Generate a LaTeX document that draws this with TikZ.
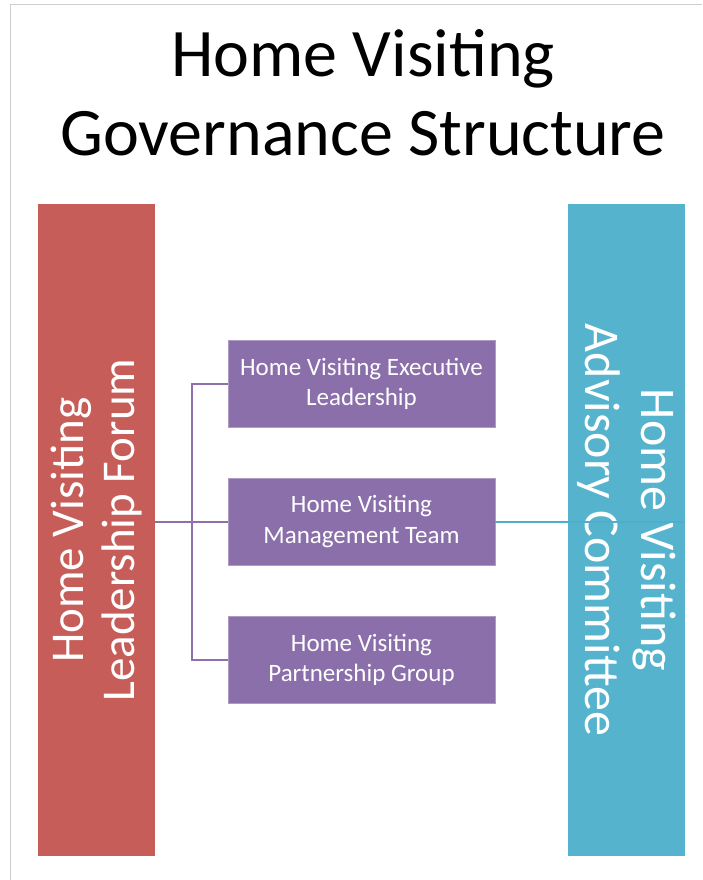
\documentclass[tikz,border=0pt]{standalone}
\usepackage{fontspec}
\setmainfont{Carlito}
\definecolor{redbar}{HTML}{C65D59}
\definecolor{bluebar}{HTML}{56B3CD}
\definecolor{purplebox}{HTML}{8B6FAA}
\definecolor{purpleline}{HTML}{8E70AC}
\definecolor{blueline}{HTML}{4FAECB}
\definecolor{frameline}{HTML}{CFCFCF}
\begin{document}
\begin{tikzpicture}[x=1pt,y=-1pt,
  sidebar/.style={minimum width=652pt, minimum height=117pt, inner sep=0pt,
    text=white, align=center},
  unitbox/.style={fill=purplebox, draw=purplebox!70!white, line width=0.6pt,
    minimum width=267pt, minimum height=87pt, inner sep=0pt, text=white,
    align=center, font=\fontsize{25}{30}\selectfont},
  link/.style={line width=2pt}]
\useasboundingbox (0,0) rectangle (702,880);
\draw[frameline, line width=1pt] (10,880) -- (10,5) -- (702,5);
\node[font=\fontsize{68}{78}\selectfont, align=center, anchor=base] (title) at (363,155)
  {Home Visiting\\Governance Structure};
\node[sidebar, fill=redbar, rotate=90, font=\fontsize{47}{51}\selectfont] (lf) at (96.5,530)
  {Home Visiting\\Leadership Forum};
\node[sidebar, fill=bluebar, rotate=-90, font=\fontsize{50}{56}\selectfont] (ac) at (626.5,530)
  {Home Visiting\\Advisory Committee};
\node[unitbox] (b1) at (361.5,384) {Home Visiting Executive\\Leadership};
\node[unitbox] (b2) at (361.5,521.5) {Home Visiting\\Management Team};
\node[unitbox] (b3) at (361.5,659.5) {Home Visiting\\Partnership Group};
\coordinate (j) at (192,521.5);
\draw[link, purpleline] (lf.south |- b2.west) -- (b2.west);
\draw[link, purpleline] (b1.west) -| (j) |- (b3.west);
\draw[link, blueline] (b2.east) -- (b2.east -| ac.north);
\end{tikzpicture}
\end{document}
